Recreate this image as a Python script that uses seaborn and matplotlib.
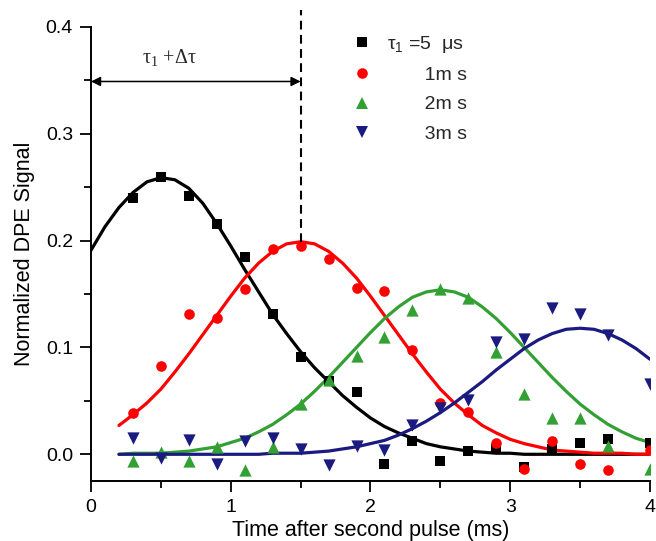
import numpy as np
import pandas as pd
import matplotlib
matplotlib.use("Agg")
import matplotlib.pyplot as plt
from matplotlib.lines import Line2D
from matplotlib.ticker import MultipleLocator
import seaborn as sns

# --- measured points (time in ms, normalized DPE signal) ---
t_points = [0.3, 0.5, 0.7, 0.9, 1.1, 1.3, 1.5, 1.7, 1.9, 2.1,
            2.3, 2.5, 2.7, 2.9, 3.1, 3.3, 3.5, 3.7, 4.0]
sig_5us = [0.240, 0.260, 0.242, 0.216, 0.185, 0.131, 0.091, 0.069, 0.058, -0.009,
           0.012, -0.006, 0.003, 0.005, -0.012, 0.005, 0.011, 0.014, 0.011]
sig_1ms = [0.039, 0.083, 0.131, 0.128, 0.155, 0.192, 0.195, 0.183, 0.156, 0.153,
           0.098, 0.048, 0.040, 0.011, -0.014, 0.012, -0.009, -0.015, 0.004]
sig_2ms = [-0.006, 0.002, -0.006, 0.007, -0.015, 0.007, 0.047, 0.070, 0.092, 0.110,
           0.135, 0.155, 0.146, 0.096, 0.056, 0.034, 0.034, 0.008, -0.014]
sig_3ms = [0.015, -0.003, 0.013, -0.009, 0.012, 0.015, 0.005, -0.010, 0.008, 0.004,
           0.027, 0.043, 0.051, 0.105, 0.108, 0.137, 0.131, 0.112, 0.066]

# --- fitted curves, every 0.1 ms ---
t_fit = [0.0, 0.1, 0.2, 0.3, 0.4, 0.5, 0.6, 0.7, 0.8, 0.9,
         1.0, 1.1, 1.2, 1.3, 1.4, 1.5, 1.6, 1.7, 1.8, 1.9,
         2.0, 2.1, 2.2, 2.3, 2.4, 2.5, 2.6, 2.7, 2.8, 2.9,
         3.0, 3.1, 3.2, 3.3, 3.4, 3.5, 3.6, 3.7, 3.8, 3.9, 4.0]
fit_5us = [0.191, 0.213, 0.231, 0.245, 0.255, 0.259, 0.257, 0.249, 0.235, 0.216,
           0.195, 0.173, 0.152, 0.131, 0.113, 0.096, 0.081, 0.068, 0.055, 0.044,
           0.034, 0.026, 0.020, 0.015, 0.010, 0.007, 0.005, 0.003, 0.002, 0.001,
           0.001, 0.000, 0.000, 0.000, 0.000, 0.000, 0.000, 0.000, 0.000, 0.000, 0.000]
fit_1ms = [None, None, 0.027, 0.037, 0.048, 0.061, 0.077, 0.094, 0.112, 0.130,
           0.148, 0.165, 0.179, 0.190, 0.197, 0.199, 0.197, 0.190, 0.179, 0.165,
           0.148, 0.130, 0.112, 0.094, 0.077, 0.061, 0.048, 0.037, 0.027, 0.020,
           0.014, 0.010, 0.007, 0.004, 0.003, 0.002, 0.001, 0.001, 0.001, 0.000, 0.000]
fit_2ms = [None, None, 0.000, 0.001, 0.001, 0.001, 0.002, 0.003, 0.005, 0.007,
           0.011, 0.015, 0.021, 0.028, 0.037, 0.047, 0.059, 0.072, 0.086, 0.100,
           0.114, 0.127, 0.138, 0.147, 0.152, 0.154, 0.152, 0.147, 0.138, 0.127,
           0.114, 0.100, 0.086, 0.072, 0.059, 0.047, 0.037, 0.028, 0.021, 0.015, 0.011]
fit_3ms = [None, None, 0.000, 0.000, 0.000, 0.000, 0.000, 0.000, 0.000, 0.000,
           0.000, 0.000, 0.000, 0.001, 0.001, 0.001, 0.002, 0.003, 0.005, 0.007,
           0.010, 0.013, 0.018, 0.024, 0.031, 0.039, 0.048, 0.058, 0.068, 0.079,
           0.089, 0.099, 0.107, 0.113, 0.117, 0.118, 0.117, 0.113, 0.107, 0.099, 0.089]

series_labels = ["τ$_\\mathregular{1}$ =5  μs", "       1m s", "       2m s", "       3m s"]
colors = ["#000000", "#ff0000", "#33a033", "#1a1a80"]
markers = ["s", "o", "^", "v"]
marker_sizes = [48, 58, 78, 78]

# dashed marker line / arrow span
t_marker = 1.5
arrow_y = 0.349

sns.set_theme(style="ticks")
plt.rcParams["font.family"] = ["Liberation Sans", "DejaVu Sans"]
plt.rcParams["mathtext.fontset"] = "dejavusans"

fig = plt.figure(figsize=(6.56, 5.41), dpi=100)
ax = fig.add_axes([0.1387, 0.1109, 0.8521, 0.8392])

pts_list = [sig_5us, sig_1ms, sig_2ms, sig_3ms]
fit_list = [fit_5us, fit_1ms, fit_2ms, fit_3ms]

for sig, fit, col, mk, ms in zip(pts_list, fit_list, colors, markers, marker_sizes):
    fit_df = pd.DataFrame({"t": t_fit, "s": fit}).dropna()
    sns.lineplot(data=fit_df, x="t", y="s", color=col, linewidth=2.3, ax=ax, zorder=2)
    pts_df = pd.DataFrame({"t": t_points, "s": sig})
    sns.scatterplot(data=pts_df, x="t", y="s", color=col, marker=mk, s=ms,
                    linewidth=0, ax=ax, zorder=3)

# vertical dashed line at the 1 ms peak, running above the axes
peak_1ms = max(v for v in fit_1ms if v is not None)
ax.plot([t_marker, t_marker], [peak_1ms, 0.416], color="black", linestyle="--",
        linewidth=1.5, dashes=(4.2, 2.6), clip_on=False, zorder=4)

# double arrow tau1 + delta tau
ax.annotate("", xy=(0.0, arrow_y), xytext=(t_marker, arrow_y),
            arrowprops=dict(arrowstyle="<|-|>", color="black", lw=1.1,
                            mutation_scale=14, shrinkA=0, shrinkB=0))
ax.text(0.56, 0.371, "τ$_\\mathregular{1}$ +Δτ", ha="center", va="center",
        fontsize=14.5, family=["Liberation Serif", "DejaVu Serif"])

ax.set_xlim(0, 4)
ax.set_ylim(-0.025, 0.4)
ax.xaxis.set_major_locator(MultipleLocator(1))
ax.xaxis.set_minor_locator(MultipleLocator(0.5))
ax.yaxis.set_major_locator(MultipleLocator(0.1))
ax.yaxis.set_minor_locator(MultipleLocator(0.05))
ax.yaxis.set_major_formatter(plt.FormatStrFormatter("%.1f"))
ax.tick_params(which="major", direction="out", length=8, width=1.3,
               labelsize=14, pad=5, color="black", labelcolor="black")
ax.tick_params(which="minor", direction="out", length=5, width=1.3, color="black")
for side in ["top", "right"]:
    ax.spines[side].set_visible(False)
for side in ["left", "bottom"]:
    ax.spines[side].set_linewidth(1.4)
    ax.spines[side].set_color("black")

ax.set_xlabel("Time after second pulse (ms)", fontsize=15.5, labelpad=3, color="black")
ax.set_ylabel("Normalized DPE Signal", fontsize=15.5, labelpad=8, color="black")

handles = [Line2D([], [], linestyle="none", marker=mk, color=col,
                  markersize=np.sqrt(ms), markeredgewidth=0)
           for col, mk, ms in zip(colors, markers, marker_sizes)]
ax.legend(handles, series_labels, loc="upper left", bbox_to_anchor=(0.467, 0.985),
          frameon=False, fontsize=14, handlelength=1.0, handletextpad=0.8,
          labelspacing=0.6, borderpad=0, borderaxespad=0)

fig.savefig("out.png", dpi=100)
